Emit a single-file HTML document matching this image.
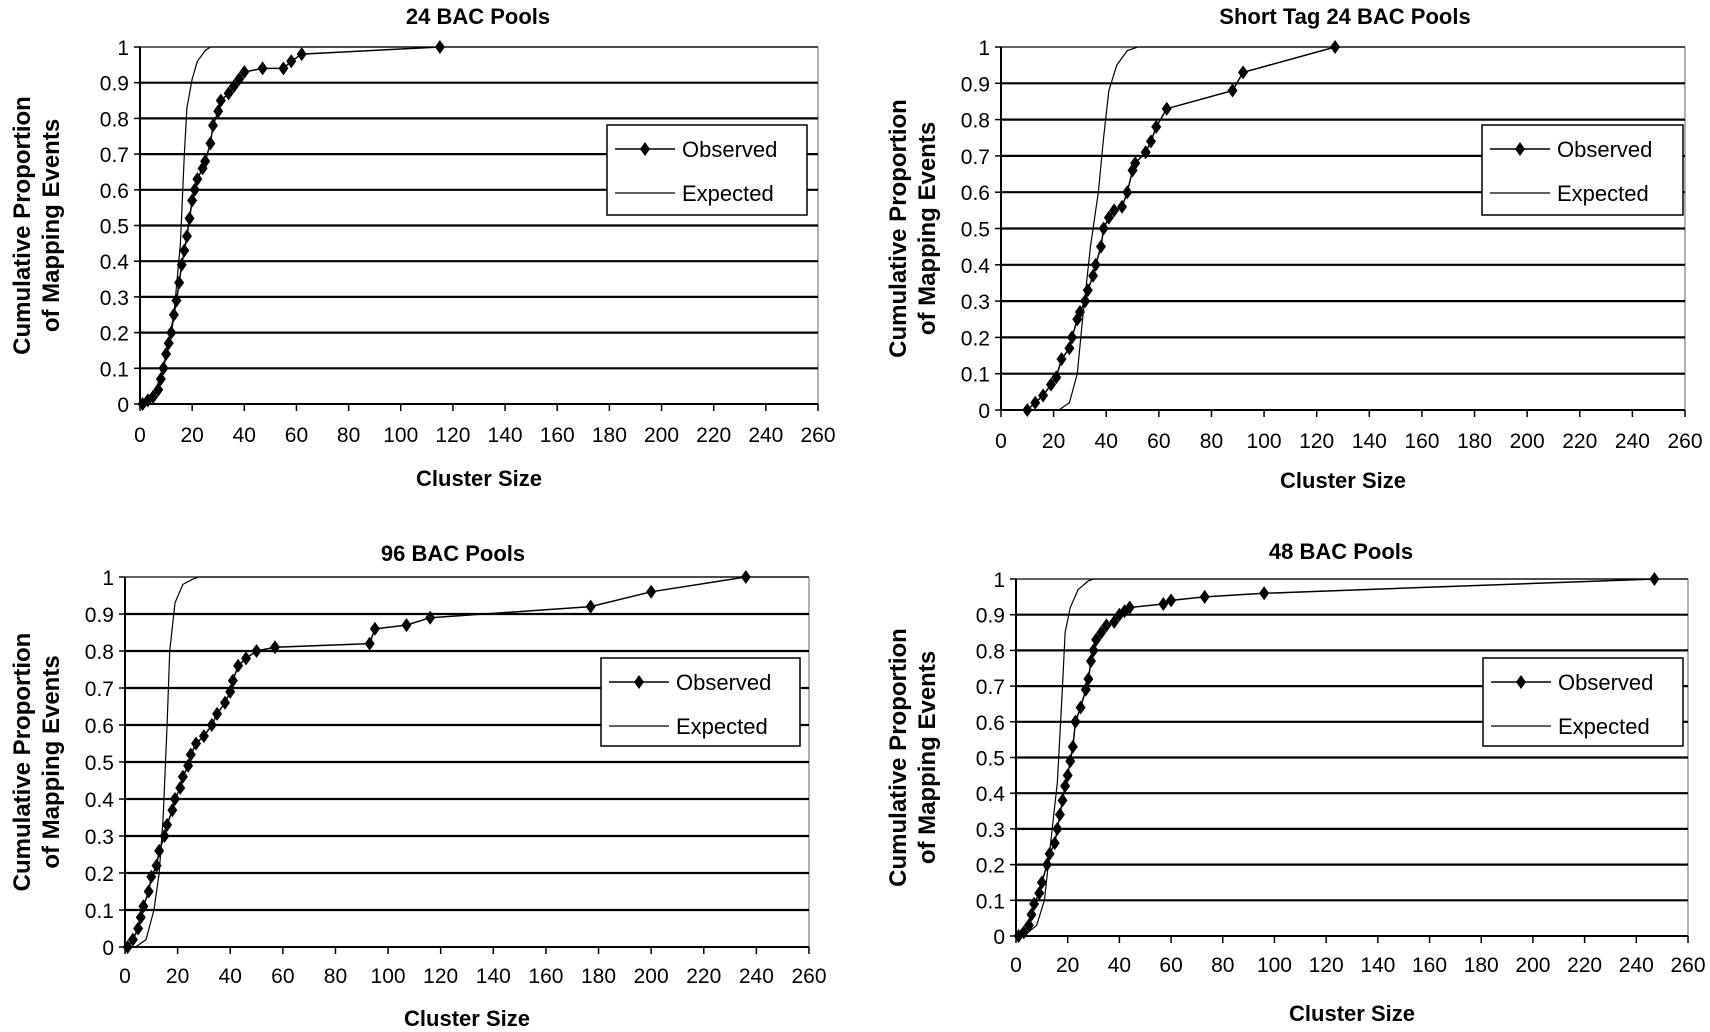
<!DOCTYPE html>
<html><head><meta charset="utf-8"><style>
html,body{margin:0;padding:0;background:#fff;}
svg{display:block;font-family:"Liberation Sans",Arial,sans-serif;}
</style></head><body>
<svg id="fig" width="1710" height="1032" viewBox="0 0 1710 1032" xmlns="http://www.w3.org/2000/svg"></svg>
<script>
const xTicks=[0,20,40,60,80,100,120,140,160,180,200,220,240,260];
const yTicks=[0,0.1,0.2,0.3,0.4,0.5,0.6,0.7,0.8,0.9,1];
const yTickLabels=["0","0.1","0.2","0.3","0.4","0.5","0.6","0.7","0.8","0.9","1"];
const titles=["24 BAC Pools","Short Tag 24 BAC Pools","96 BAC Pools","48 BAC Pools"];
const obsX1=[1,3,5,7,8,9,10,11,12,13,14,15,16,17,18,19,20,21,22,24,25,27,28,30,31,34,36,38,40,47,55,58,62,115];
const obsY1=[0,0.01,0.02,0.04,0.07,0.1,0.14,0.17,0.2,0.25,0.29,0.34,0.39,0.43,0.47,0.52,0.57,0.6,0.63,0.66,0.68,0.73,0.78,0.82,0.85,0.87,0.89,0.91,0.93,0.94,0.94,0.96,0.98,1];
const expX1=[0,5,9,13,15.5,17,18,20,22,25,27,260];
const expY1=[0,0.02,0.1,0.25,0.45,0.7,0.83,0.91,0.96,0.99,1,1];
const obsX2=[10,13,16,19,21,23,26,27,29,30,32,33,35,36,38,39,41,43,46,48,50,51,55,57,59,63,88,92,127];
const obsY2=[0,0.02,0.04,0.07,0.09,0.14,0.17,0.2,0.25,0.27,0.3,0.33,0.37,0.4,0.45,0.5,0.53,0.55,0.56,0.6,0.66,0.68,0.71,0.74,0.78,0.83,0.88,0.93,1];
const expX2=[22,26,29,31,34,37,39,41,44,48,52,260];
const expY2=[0,0.02,0.1,0.25,0.45,0.6,0.75,0.88,0.95,0.99,1,1];
const obsX3=[1,3,5,6,7,9,10,12,13,15,16,18,19,21,22,24,25,27,30,33,35,38,40,41,43,46,50,57,93,95,107,116,177,200,236];
const obsY3=[0,0.02,0.05,0.08,0.11,0.15,0.19,0.22,0.26,0.3,0.33,0.37,0.4,0.43,0.46,0.49,0.52,0.55,0.57,0.6,0.63,0.66,0.69,0.72,0.76,0.78,0.8,0.81,0.82,0.86,0.87,0.89,0.92,0.96,1];
const expX3=[4,8,11,13,14.5,16,17,19,22,26,28,260];
const expY3=[0,0.02,0.1,0.2,0.35,0.6,0.8,0.93,0.98,0.995,1,1];
const obsX4=[1,3,5,6,7,9,10,12,13,15,16,17,18,19,20,21,22,23,25,27,28,29,30,31,33,35,38,40,42,44,57,60,73,96,247];
const obsY4=[0,0.01,0.03,0.06,0.09,0.12,0.15,0.2,0.23,0.26,0.3,0.34,0.38,0.42,0.45,0.49,0.53,0.6,0.64,0.69,0.72,0.77,0.8,0.83,0.85,0.87,0.88,0.9,0.91,0.92,0.93,0.94,0.95,0.96,1];
const expX4=[3,8,11,14,16,18,19,21,24,28,30,260];
const expY4=[0,0.03,0.1,0.3,0.43,0.7,0.85,0.92,0.97,0.995,1,1];

const panels=[
 {x0:140,x1:818,y1:47,y0:404,tx:478,ty:24,lg:[607,125,200,90],tl:442,xt:486,yt:22,ox:obsX1,oy:obsY1,ex:expX1,ey:expY1},
 {x0:1001,x1:1685,y1:47,y0:410,tx:1345,ty:24,lg:[1482,125,201,90],tl:448,xt:488,yt:898,ox:obsX2,oy:obsY2,ex:expX2,ey:expY2},
 {x0:125,x1:809,y1:577,y0:947,tx:453,ty:561,lg:[601,658,199,88],tl:983,xt:1026,yt:22,ox:obsX3,oy:obsY3,ex:expX3,ey:expY3},
 {x0:1016,x1:1688,y1:579,y0:936,tx:1341,ty:559,lg:[1483,658,200,88],tl:972,xt:1021,yt:898,ox:obsX4,oy:obsY4,ex:expX4,ey:expY4}
];
const NS="http://www.w3.org/2000/svg";
const svg=document.getElementById('fig');
function mk(tag,attrs,parent,txt){const e=document.createElementNS(NS,tag);for(const k in attrs)e.setAttribute(k,attrs[k]);if(txt!==undefined)e.textContent=txt;(parent||svg).appendChild(e);return e;}
panels.forEach((p,i)=>{
 const g=mk('g',{});
 
 
 const sx=v=>p.x0+(v/260)*(p.x1-p.x0);
 const sy=v=>p.y0-v*(p.y0-p.y1);
 const t=mk('text',{x:p.tx,y:p.ty,'text-anchor':'middle','font-size':22,'font-weight':'bold'},g,titles[i]);
 
 
 mk('line',{x1:p.x0,y1:p.y1,x2:p.x1,y2:p.y1,stroke:'#999','stroke-width':1.5},g);
 mk('line',{x1:p.x1,y1:p.y1,x2:p.x1,y2:p.y0,stroke:'#999','stroke-width':1.5},g);
 yTicks.forEach((v,k)=>{
  if(v>0){const gl=mk('line',{x1:p.x0,y1:sy(v),x2:p.x1,y2:sy(v),stroke:'#000','stroke-width':v==1?1:2.2},g);
   }
  mk('line',{x1:p.x0-6,y1:sy(v),x2:p.x0,y2:sy(v),stroke:'#000','stroke-width':1.5},g);
  const tl=mk('text',{x:p.x0-11,y:sy(v)+8,'text-anchor':'end','font-size':21},g,yTickLabels[k]);
  
 });
 mk('line',{x1:p.x0,y1:p.y1,x2:p.x0,y2:p.y0,stroke:'#000','stroke-width':2},g);
 mk('line',{x1:p.x0,y1:p.y0,x2:p.x1,y2:p.y0,stroke:'#000','stroke-width':2},g);
 xTicks.forEach(v=>{
  mk('line',{x1:sx(v),y1:p.y0,x2:sx(v),y2:p.y0+7,stroke:'#000','stroke-width':1.5},g);
  const xl=mk('text',{x:sx(v),y:p.tl,'text-anchor':'middle','font-size':21},g,String(v));
  
 });
 const xa=mk('text',{x:(p.x0+p.x1)/2,y:p.xt,'text-anchor':'middle','font-size':22,'font-weight':'bold'},g,'Cluster Size');
 
 const yc=(p.y0+p.y1)/2;
 const ya=mk('text',{transform:`translate(${p.yt},${yc}) rotate(-90)`,'text-anchor':'middle','font-size':24,'font-weight':'bold'},g);
 
 mk('tspan',{x:0,y:8},ya,'Cumulative Proportion');
 mk('tspan',{x:0,y:37},ya,'of Mapping Events');
 const ep=p.ex.map((v,k)=>sx(v)+','+sy(p.ey[k])).join(' ');
 const el=mk('polyline',{points:ep,fill:'none',stroke:'#000','stroke-width':1.2},g);
 
 const op=p.ox.map((v,k)=>sx(v)+','+sy(p.oy[k])).join(' ');
 const ol=mk('polyline',{points:op,fill:'none',stroke:'#000','stroke-width':1.5},g);
 
 p.ox.forEach((v,k)=>{
  const cx=sx(v),cy=sy(p.oy[k]);
  const d=mk('polygon',{points:`${cx},${cy-7} ${cx+5},${cy} ${cx},${cy+7} ${cx-5},${cy}`,fill:'#000'},g);
  
 });
 const [lx,ly,lw,lh]=p.lg;
 const lg=mk('g',{},g);
 
 mk('rect',{x:lx,y:ly,width:lw,height:lh,fill:'#fff',stroke:'#000','stroke-width':1.5},lg);
 mk('line',{x1:lx+8,y1:ly+24,x2:lx+68,y2:ly+24,stroke:'#000','stroke-width':1.5},lg);
 mk('polygon',{points:`${lx+38},${ly+17} ${lx+43},${ly+24} ${lx+38},${ly+31} ${lx+33},${ly+24}`,fill:'#000'},lg);
 const l1=mk('text',{x:lx+75,y:ly+32,'font-size':22},lg,'Observed');
 
 mk('line',{x1:lx+8,y1:ly+68,x2:lx+68,y2:ly+68,stroke:'#000','stroke-width':1.2},lg);
 const l2=mk('text',{x:lx+75,y:ly+76,'font-size':22},lg,'Expected');
 
});
</script>
</body></html>
